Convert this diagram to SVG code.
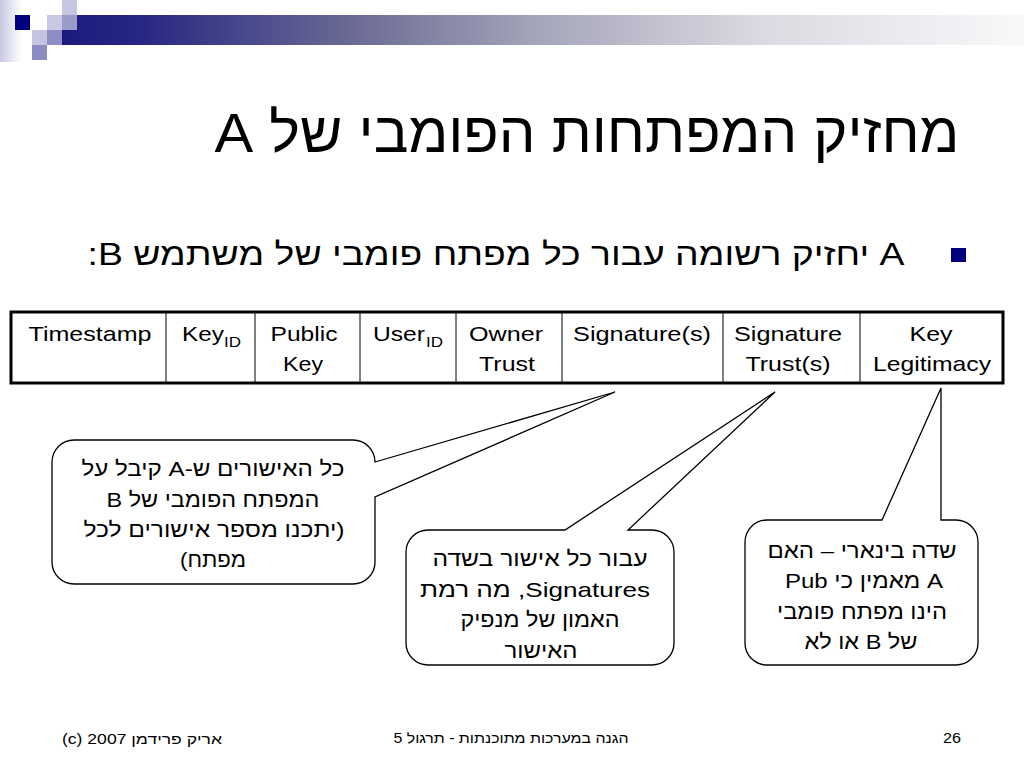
<svg xmlns="http://www.w3.org/2000/svg" width="1024" height="768" viewBox="0 0 1024 768">
<defs>
<linearGradient id="bar" x1="0" y1="0" x2="1" y2="0">
<stop offset="0" stop-color="#1b1b7d"/>
<stop offset="0.08" stop-color="#262683"/>
<stop offset="0.3" stop-color="#6a6a94"/>
<stop offset="0.5" stop-color="#a6a6bb"/>
<stop offset="0.72" stop-color="#d9d9e1"/>
<stop offset="1" stop-color="#f9f9fb"/>
</linearGradient>
<linearGradient id="strip" x1="0" y1="0" x2="1" y2="0">
<stop offset="0" stop-color="#c8c8e2"/>
<stop offset="1" stop-color="#ffffff"/>
</linearGradient>
<style>
.t{font-family:"Liberation Sans",Arial,"DejaVu Sans",sans-serif;fill:#000}
.cell{font-size:21px;text-anchor:middle}
.call{font-size:21px;text-anchor:middle}
.box{fill:#fff;stroke:#000;stroke-width:1.3}
.grid{stroke:#000;stroke-width:1}
.foot{font-size:14px}
</style>
</defs>
<rect width="1024" height="768" fill="#fff"/>

<g id="decoration">
<rect x="0" y="0" width="22" height="62" fill="url(#strip)"/>
<rect x="62" y="15" width="962" height="30" fill="url(#bar)"/>
<rect x="15" y="15" width="15" height="15" fill="#00007f"/>
<rect x="47" y="15" width="15" height="15" fill="#c9c9e3"/>
<rect x="62" y="0" width="15" height="15" fill="#c6c6e2"/>
<rect x="62" y="15" width="15" height="15" fill="#9a9acb"/>
<rect x="32" y="30" width="15" height="15" fill="#c4c4e2"/>
<rect x="47" y="30" width="15" height="15" fill="#8e8ec4"/>
<rect x="32" y="45" width="15" height="15" fill="#8c8cc4"/>
</g>

<g id="title">
<text class="t" x="587" y="152" font-size="56" text-anchor="middle" direction="rtl" textLength="745" lengthAdjust="spacingAndGlyphs">מחזיק המפתחות הפומבי של A</text>
</g>

<g id="bullet">
<rect x="951" y="248" width="15" height="14" fill="#000080"/>
<text class="t" x="496" y="265" font-size="31" text-anchor="middle" direction="rtl" textLength="817" lengthAdjust="spacingAndGlyphs">A יחזיק רשומה עבור כל מפתח פומבי של משתמש B:</text>
</g>

<g id="table">
<rect x="11" y="312" width="992" height="71" fill="#fff" stroke="#000" stroke-width="3"/>
<line class="grid" x1="166" y1="312" x2="166" y2="383"/>
<line class="grid" x1="255" y1="312" x2="255" y2="383"/>
<line class="grid" x1="360" y1="312" x2="360" y2="383"/>
<line class="grid" x1="456" y1="312" x2="456" y2="383"/>
<line class="grid" x1="562" y1="312" x2="562" y2="383"/>
<line class="grid" x1="723" y1="312" x2="723" y2="383"/>
<line class="grid" x1="860" y1="312" x2="860" y2="383"/>
<text class="t cell" x="90" y="341" textLength="123" lengthAdjust="spacingAndGlyphs">Timestamp</text>
<text class="t" x="182" y="341" font-size="21" textLength="42" lengthAdjust="spacingAndGlyphs">Key</text>
<text class="t" x="224" y="347" font-size="14" textLength="17" lengthAdjust="spacingAndGlyphs">ID</text>
<text class="t cell" x="304" y="341" textLength="67" lengthAdjust="spacingAndGlyphs">Public</text>
<text class="t cell" x="303" y="371" textLength="40" lengthAdjust="spacingAndGlyphs">Key</text>
<text class="t" x="373" y="341" font-size="21" textLength="52" lengthAdjust="spacingAndGlyphs">User</text>
<text class="t" x="426" y="347" font-size="14" textLength="17" lengthAdjust="spacingAndGlyphs">ID</text>
<text class="t cell" x="506" y="341" textLength="74" lengthAdjust="spacingAndGlyphs">Owner</text>
<text class="t cell" x="507" y="371" textLength="56" lengthAdjust="spacingAndGlyphs">Trust</text>
<text class="t cell" x="642" y="341" textLength="138" lengthAdjust="spacingAndGlyphs">Signature(s)</text>
<text class="t cell" x="788" y="341" textLength="108" lengthAdjust="spacingAndGlyphs">Signature</text>
<text class="t cell" x="788" y="371" textLength="85" lengthAdjust="spacingAndGlyphs">Trust(s)</text>
<text class="t cell" x="931" y="341" textLength="43" lengthAdjust="spacingAndGlyphs">Key</text>
<text class="t cell" x="932" y="371" textLength="118" lengthAdjust="spacingAndGlyphs">Legitimacy</text>
</g>

<g id="callout-signatures">
<path class="box" d="M74,440 H353 A22,22 0 0 1 375,462 L615,392 L375,497 V562 A22,22 0 0 1 353,584 H74 A22,22 0 0 1 52,562 V462 A22,22 0 0 1 74,440 Z"/>
<text class="t call" x="213" y="476" direction="rtl" textLength="263" lengthAdjust="spacingAndGlyphs">כל האישורים ש-A קיבל על</text>
<text class="t call" x="213" y="507" direction="rtl" textLength="213" lengthAdjust="spacingAndGlyphs">המפתח הפומבי של B</text>
<text class="t call" x="214" y="537" direction="rtl" textLength="261" lengthAdjust="spacingAndGlyphs">(יתכנו מספר אישורים לכל</text>
<text class="t call" x="213" y="567" direction="rtl" textLength="66" lengthAdjust="spacingAndGlyphs">מפתח)</text>
</g>

<g id="callout-sigtrust">
<path class="box" d="M428,530 H565 L775,392 L628,530 H652 A22,22 0 0 1 674,552 V643 A22,22 0 0 1 652,665 H428 A22,22 0 0 1 406,643 V552 A22,22 0 0 1 428,530 Z"/>
<text class="t call" x="540" y="566" direction="rtl" textLength="215" lengthAdjust="spacingAndGlyphs">עבור כל אישור בשדה</text>
<text class="t call" x="535" y="597" direction="rtl" textLength="230" lengthAdjust="spacingAndGlyphs">Signatures, מה רמת</text>
<text class="t call" x="540" y="627" direction="rtl" textLength="159" lengthAdjust="spacingAndGlyphs">האמון של מנפיק</text>
<text class="t call" x="541" y="658" direction="rtl" textLength="73" lengthAdjust="spacingAndGlyphs">האישור</text>
</g>

<g id="callout-legitimacy">
<path class="box" d="M767,520 H882 L941,388 V520 H956 A22,22 0 0 1 978,542 V643 A22,22 0 0 1 956,665 H767 A22,22 0 0 1 745,643 V542 A22,22 0 0 1 767,520 Z"/>
<text class="t call" x="862" y="558" direction="rtl" textLength="189" lengthAdjust="spacingAndGlyphs">שדה בינארי – האם</text>
<text class="t call" x="864" y="588" direction="rtl" textLength="158" lengthAdjust="spacingAndGlyphs">A מאמין כי Pub</text>
<text class="t call" x="862" y="619" direction="rtl" textLength="170" lengthAdjust="spacingAndGlyphs">הינו מפתח פומבי</text>
<text class="t call" x="861" y="649" direction="rtl" textLength="113" lengthAdjust="spacingAndGlyphs">של B או לא</text>
</g>

<g id="connectors"></g>

<g id="footer">
<text class="t foot" x="142" y="744" text-anchor="middle" direction="rtl" textLength="160" lengthAdjust="spacingAndGlyphs">אריק פרידמן 2007 (c)</text>
<text class="t foot" x="511" y="743" text-anchor="middle" direction="rtl" textLength="235" lengthAdjust="spacingAndGlyphs">הגנה במערכות מתוכנתות - תרגול 5</text>
<text class="t foot" x="943" y="743" textLength="18" lengthAdjust="spacingAndGlyphs">26</text>
</g>
</svg>
